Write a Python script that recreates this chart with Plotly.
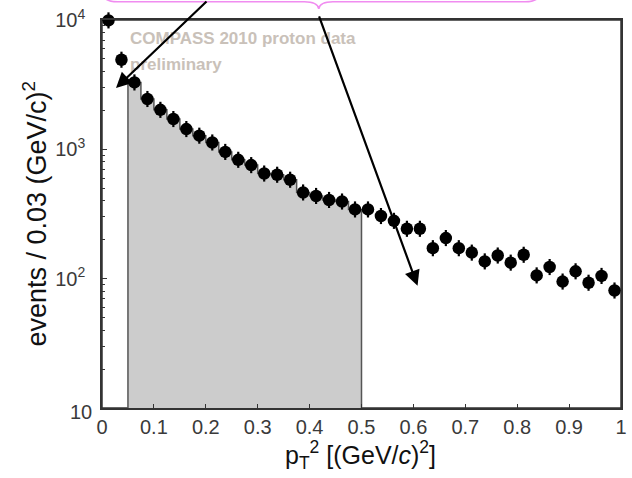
import plotly.graph_objects as go

# ---- data ----
bin_centers = [0.0125, 0.0375, 0.0625, 0.0875, 0.1125, 0.1375, 0.1625, 0.1875,
               0.2125, 0.2375, 0.2625, 0.2875, 0.3125, 0.3375, 0.3625, 0.3875,
               0.4125, 0.4375, 0.4625, 0.4875, 0.5125, 0.5375, 0.5625, 0.5875,
               0.6125, 0.6375, 0.6625, 0.6875, 0.7125, 0.7375, 0.7625, 0.7875,
               0.8125, 0.8375, 0.8625, 0.8875, 0.9125, 0.9375, 0.9625, 0.9875]
events = [9930, 4930, 3290, 2450, 2020, 1715, 1435, 1275, 1130, 955,
          830, 755, 650, 636, 582, 464, 436, 406, 395, 343,
          343, 305, 280, 243, 243, 172, 206, 172, 159, 136,
          151, 133, 153, 106, 123, 95, 114, 93, 105, 81]
bin_width = 0.025
shade_range = [0.05, 0.5]
y_baseline = 10

x_ticks = [0, 0.1, 0.2, 0.3, 0.4, 0.5, 0.6, 0.7, 0.8, 0.9, 1]
y_tickvals = [10, 100, 1000, 10000]
y_ticktext = ["", "10<sup>2</sup>", "10<sup>3</sup>", "10<sup>4</sup>"]
y_bottom_label = "10"

# ---- shaded histogram outline built from the data ----
hx, hy = [], []
sel = [(c, v) for c, v in zip(bin_centers, events)
       if shade_range[0] < c < shade_range[1]]
hx.append(sel[0][0] - bin_width / 2)
hy.append(y_baseline)
for c, v in sel:
    hx += [c - bin_width / 2, c + bin_width / 2]
    hy += [v, v]
hx.append(sel[-1][0] + bin_width / 2)
hy.append(y_baseline)

FONT = "Liberation Sans, Arial, sans-serif"
AXC = "#333333"
TICKC = "#3a3a3a"

fig = go.Figure()
fig.add_trace(go.Scatter(x=hx, y=hy, mode="lines", fill="toself",
                         fillcolor="#cccccc",
                         line=dict(color="#555555", width=1.5),
                         hoverinfo="skip", showlegend=False))
# error-bar stubs
fig.add_trace(go.Scatter(x=bin_centers, y=events, mode="markers",
                         marker=dict(symbol="line-ns", size=11.5,
                                     line=dict(color="black", width=2.2)),
                         cliponaxis=False, showlegend=False, hoverinfo="skip"))
fig.add_trace(go.Scatter(x=bin_centers, y=events, mode="markers",
                         marker=dict(symbol="circle", size=12.5, color="black"),
                         cliponaxis=False, showlegend=False))

fig.update_layout(
    width=632, height=478,
    margin=dict(l=102, r=11, t=20, b=70),
    paper_bgcolor="white", plot_bgcolor="white",
    font=dict(family=FONT, color=AXC, size=20),
    showlegend=False,
    xaxis=dict(range=[0, 1], tickmode="array", tickvals=x_ticks,
               ticks="inside", ticklen=4, tickwidth=1.2, tickcolor=AXC,
               showline=True, linecolor=AXC, linewidth=1.5, mirror=True,
               showgrid=False, zeroline=False, automargin=False,
               tickfont=dict(size=20, color=TICKC),
               ticklabelstandoff=0),
    yaxis=dict(type="log", range=[1, 4], tickmode="array",
               tickvals=y_tickvals, ticktext=y_ticktext,
               ticks="inside", ticklen=5, tickwidth=1.2, tickcolor=AXC,
               minor=dict(ticks="inside", ticklen=3, tickcolor=AXC,
                          dtick="D1", showgrid=False),
               showline=True, linecolor=AXC, linewidth=1.5, mirror=True,
               showgrid=False, zeroline=False, automargin=False,
               tickfont=dict(size=20, color=TICKC),
               ticklabelstandoff=11),
)

# frame around the plotting area
fig.add_shape(type="rect", xref="paper", yref="paper", x0=0, y0=0, x1=1, y1=1,
              line=dict(color=AXC, width=1.5), fillcolor="rgba(0,0,0,0)",
              layer="below")

# bottom y tick label (sits lower-right of the others, as in the original)
fig.add_annotation(xref="paper", yref="paper", x=-0.0154, y=-0.01,
                   xanchor="right", yanchor="middle", showarrow=False,
                   text=y_bottom_label,
                   font=dict(family=FONT, size=20, color=TICKC))

# axis titles
fig.add_annotation(xref="paper", yref="paper", x=0.4986, y=-0.12,
                   xanchor="center", yanchor="middle", showarrow=False,
                   text="p<sub>T</sub><sup>2</sup> [(GeV/<i>c</i>)<sup>2</sup>]",
                   font=dict(family=FONT, size=25, color="#111"))
fig.add_annotation(xref="paper", yref="paper", x=-0.13, y=0.50,
                   xanchor="center", yanchor="middle", showarrow=False,
                   textangle=-90,
                   text="events / 0.03 (GeV/c)<sup>2</sup>",
                   font=dict(family=FONT, size=27, color="#111"))

# watermark text
fig.add_annotation(xref="paper", yref="paper", x=0.0506, y=0.9536,
                   xanchor="left", yanchor="middle", showarrow=False,
                   text="<b>COMPASS 2010 proton data</b>",
                   font=dict(family=FONT, size=17, color="#c9c1b9"))
fig.add_annotation(xref="paper", yref="paper", x=0.0506, y=0.8848,
                   xanchor="left", yanchor="middle", showarrow=False,
                   text="<b>preliminary</b>",
                   font=dict(family=FONT, size=17, color="#c9c1b9"))

# arrows
fig.add_annotation(xref="x", yref="y", x=0.027, y=3.474, text="",
                   showarrow=True, arrowhead=2, arrowsize=1.4, arrowwidth=2.2,
                   arrowcolor="black", ax=92, ay=-108, standoff=0)
fig.add_annotation(xref="x", yref="y", x=0.6080, y=1.945, text="",
                   showarrow=True, arrowhead=2, arrowsize=1.4, arrowwidth=2.2,
                   arrowcolor="black", ax=-99, ay=-271, standoff=0)

# pink brace at the top
fig.add_shape(type="path", xref="paper", yref="paper",
              path=("M 0.002,1.065 Q 0.005,1.047 0.03,1.047 L 0.39,1.047 "
                    "Q 0.415,1.047 0.4177,1.029 Q 0.42,1.047 0.445,1.047 "
                    "L 0.815,1.047 Q 0.84,1.047 0.843,1.065"),
              line=dict(color="#f08cf0", width=1.6), layer="above")

fig.write_html("out.html",
               config={"displayModeBar": False},
               post_script="document.body.style.margin='0px';"
                           "document.body.style.overflow='hidden';")
